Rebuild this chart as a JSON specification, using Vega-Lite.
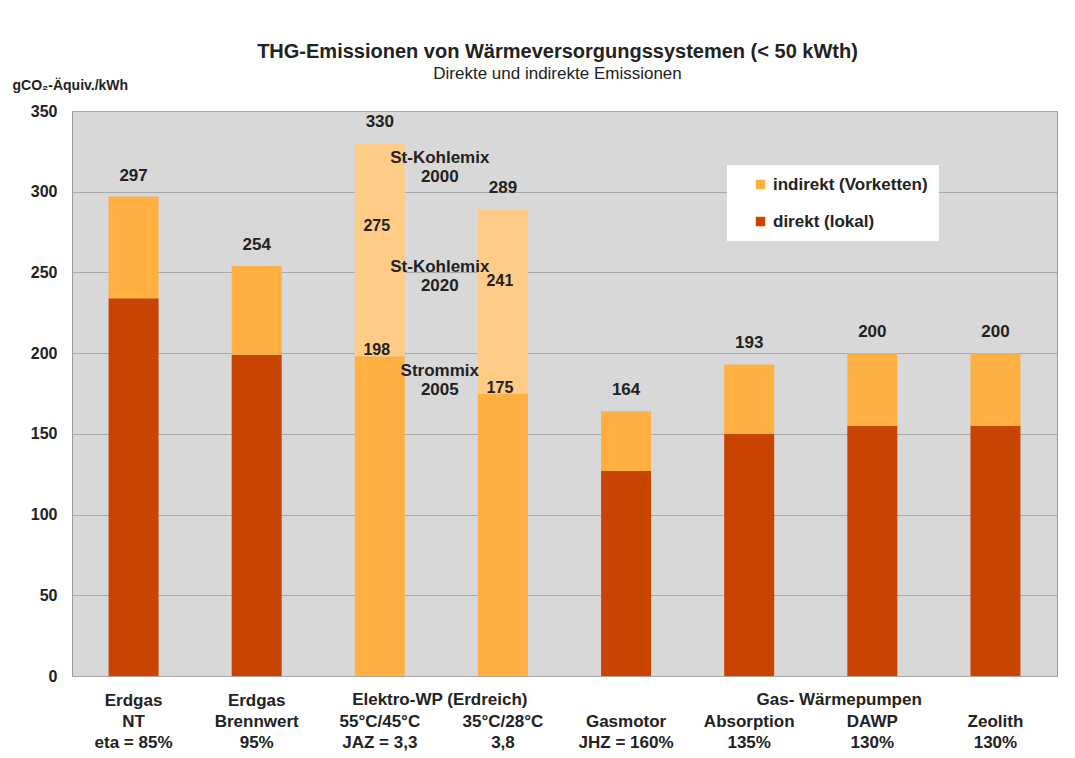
{
  "$schema": "https://vega.github.io/schema/vega-lite/v6.json",
  "width": 985,
  "height": 565,
  "autosize": {"type": "none"},
  "padding": {"left": 72, "top": 111, "right": 18, "bottom": 82},
  "background": "white",
  "config": {
    "font": "Liberation Sans",
    "view": {"fill": "#D8D8D8", "stroke": "#9A9A9A", "strokeWidth": 1}
  },
  "title": {
    "text": "THG-Emissionen von Wärmeversorgungssystemen (< 50 kWth)",
    "subtitle": "Direkte und indirekte Emissionen",
    "fontSize": 20,
    "fontWeight": "bold",
    "color": "#222222",
    "subtitleFontSize": 17,
    "subtitleColor": "#222222",
    "subtitlePadding": 4,
    "anchor": "middle",
    "frame": "group",
    "offset": -4,
    "dx": -7
  },
  "datasets": {
    "bars": [
      {"cat": "Erdgas|NT|eta = 85%", "seg": "direkt (lokal)", "val": 0, "end": 234},
      {"cat": "Erdgas|NT|eta = 85%", "seg": "indirekt (Vorketten)", "val": 234, "end": 297},
      {"cat": "Erdgas|Brennwert|95%", "seg": "direkt (lokal)", "val": 0, "end": 199},
      {"cat": "Erdgas|Brennwert|95%", "seg": "indirekt (Vorketten)", "val": 199, "end": 254},
      {"cat": " |55°C/45°C|JAZ = 3,3", "seg": "indirekt (Vorketten)", "val": 0, "end": 198},
      {"cat": " |55°C/45°C|JAZ = 3,3", "seg": "indirekt (St-Kohlemix)", "val": 198, "end": 330},
      {"cat": " |35°C/28°C|3,8", "seg": "indirekt (Vorketten)", "val": 0, "end": 175},
      {"cat": " |35°C/28°C|3,8", "seg": "indirekt (St-Kohlemix)", "val": 175, "end": 289},
      {"cat": " |Gasmotor|JHZ = 160%", "seg": "direkt (lokal)", "val": 0, "end": 127},
      {"cat": " |Gasmotor|JHZ = 160%", "seg": "indirekt (Vorketten)", "val": 127, "end": 164},
      {"cat": " |Absorption|135%", "seg": "direkt (lokal)", "val": 0, "end": 150},
      {"cat": " |Absorption|135%", "seg": "indirekt (Vorketten)", "val": 150, "end": 193},
      {"cat": " |DAWP|130%", "seg": "direkt (lokal)", "val": 0, "end": 155},
      {"cat": " |DAWP|130%", "seg": "indirekt (Vorketten)", "val": 155, "end": 200},
      {"cat": " |Zeolith|130%", "seg": "direkt (lokal)", "val": 0, "end": 155},
      {"cat": " |Zeolith|130%", "seg": "indirekt (Vorketten)", "val": 155, "end": 200}
    ],
    "totals": [
      {"cat": "Erdgas|NT|eta = 85%", "val": 297},
      {"cat": "Erdgas|Brennwert|95%", "val": 254},
      {"cat": " |55°C/45°C|JAZ = 3,3", "val": 330},
      {"cat": " |35°C/28°C|3,8", "val": 289},
      {"cat": " |Gasmotor|JHZ = 160%", "val": 164},
      {"cat": " |Absorption|135%", "val": 193},
      {"cat": " |DAWP|130%", "val": 200},
      {"cat": " |Zeolith|130%", "val": 200}
    ],
    "levels": [
      {"cat": " |55°C/45°C|JAZ = 3,3", "val": 275},
      {"cat": " |55°C/45°C|JAZ = 3,3", "val": 198},
      {"cat": " |35°C/28°C|3,8", "val": 241},
      {"cat": " |35°C/28°C|3,8", "val": 175}
    ],
    "notes": [
      {"cat": " |55°C/45°C|JAZ = 3,3", "val": 315, "text": "St-Kohlemix|2000"},
      {"cat": " |55°C/45°C|JAZ = 3,3", "val": 247, "text": "St-Kohlemix|2020"},
      {"cat": " |55°C/45°C|JAZ = 3,3", "val": 183, "text": "Strommix|2005"}
    ],
    "groups": [
      {"cat": " |55°C/45°C|JAZ = 3,3", "val": 0, "text": "Elektro-WP (Erdreich)", "shift": "a"},
      {"cat": " |Absorption|135%", "val": 0, "text": "Gas- Wärmepumpen", "shift": "b"}
    ]
  },
  "encoding": {
    "x": {
      "field": "cat",
      "type": "nominal",
      "scale": {
        "domain": ["Erdgas|NT|eta = 85%", "Erdgas|Brennwert|95%", " |55°C/45°C|JAZ = 3,3", " |35°C/28°C|3,8", " |Gasmotor|JHZ = 160%", " |Absorption|135%", " |DAWP|130%", " |Zeolith|130%"],
        "paddingInner": 0,
        "paddingOuter": 0
      },
      "axis": {
        "title": null,
        "labelExpr": "split(datum.value, '|')",
        "labelFontSize": 17,
        "labelFontWeight": "bold",
        "labelLineHeight": 21,
        "labelPadding": 16,
        "labelBaseline": "top",
        "labelAngle": 0,
        "labelOverlap": false,
        "labelColor": "#222222",
        "domain": false,
        "ticks": false,
        "labelLimit": 300
      }
    },
    "y": {
      "field": "val",
      "type": "quantitative",
      "scale": {"domain": [0, 350], "nice": false},
      "axis": {
        "values": [0, 50, 100, 150, 200, 250, 300, 350],
        "title": "gCO₂-Äquiv./kWh",
        "titleAngle": 0,
        "titleX": -60,
        "titleY": -19,
        "titleAlign": "left",
        "titleBaseline": "bottom",
        "titleFontSize": 14,
        "titleFontWeight": "bold",
        "titleColor": "#222222",
        "domain": false,
        "ticks": false,
        "labelFontSize": 16,
        "labelFontWeight": "bold",
        "labelColor": "#222222",
        "labelPadding": 15,
        "gridColor": "#A8A8A8",
        "gridWidth": 1,
        "format": "d"
      }
    }
  },
  "layer": [
    {
      "data": {"name": "bars"},
      "mark": {"type": "bar", "width": 50},
      "encoding": {
        "y2": {"field": "end"},
        "color": {
          "field": "seg",
          "type": "nominal",
          "scale": {
            "domain": ["indirekt (Vorketten)", "direkt (lokal)", "indirekt (St-Kohlemix)"],
            "range": ["#FFB040", "#C84400", "#FFCC87"]
          },
          "legend": {
            "orient": "none",
            "legendX": 655,
            "legendY": 54,
            "title": null,
            "values": ["indirekt (Vorketten)", "direkt (lokal)"],
            "labelExpr": "datum.label + '  '",
            "fillColor": "white",
            "padding": 11,
            "symbolOffset": 14,
            "symbolType": "square",
            "symbolSize": 90,
            "symbolStrokeWidth": 0,
            "labelFontSize": 17,
            "labelFontWeight": "bold",
            "labelColor": "#222222",
            "labelOffset": 4,
            "rowPadding": 19
          }
        }
      }
    },
    {
      "data": {"name": "totals"},
      "mark": {"type": "text", "baseline": "bottom", "dy": -12, "fontSize": 17, "fontWeight": "bold", "color": "#222222"},
      "encoding": {
        "text": {"field": "val", "type": "quantitative"}
      }
    },
    {
      "data": {"name": "levels"},
      "mark": {"type": "text", "baseline": "middle", "dy": -6, "dx": -3, "fontSize": 16, "fontWeight": "bold", "color": "#222222"},
      "encoding": {
        "text": {"field": "val", "type": "quantitative"}
      }
    },
    {
      "data": {"name": "notes"},
      "mark": {"type": "text", "baseline": "middle", "dx": 60, "dy": -10, "lineBreak": "|", "lineHeight": 19, "fontSize": 17, "fontWeight": "bold", "color": "#222222"},
      "encoding": {
        "text": {"field": "text", "type": "nominal"}
      }
    },
    {
      "data": {"name": "groups"},
      "transform": [{"filter": "datum.shift == 'a'"}],
      "mark": {"type": "text", "baseline": "middle", "dx": 60, "dy": 24, "fontSize": 17, "fontWeight": "bold", "color": "#222222"},
      "encoding": {
        "text": {"field": "text", "type": "nominal"}
      }
    },
    {
      "data": {"name": "groups"},
      "transform": [{"filter": "datum.shift == 'b'"}],
      "mark": {"type": "text", "baseline": "middle", "dx": 90, "dy": 24, "fontSize": 17, "fontWeight": "bold", "color": "#222222"},
      "encoding": {
        "text": {"field": "text", "type": "nominal"}
      }
    }
  ]
}
